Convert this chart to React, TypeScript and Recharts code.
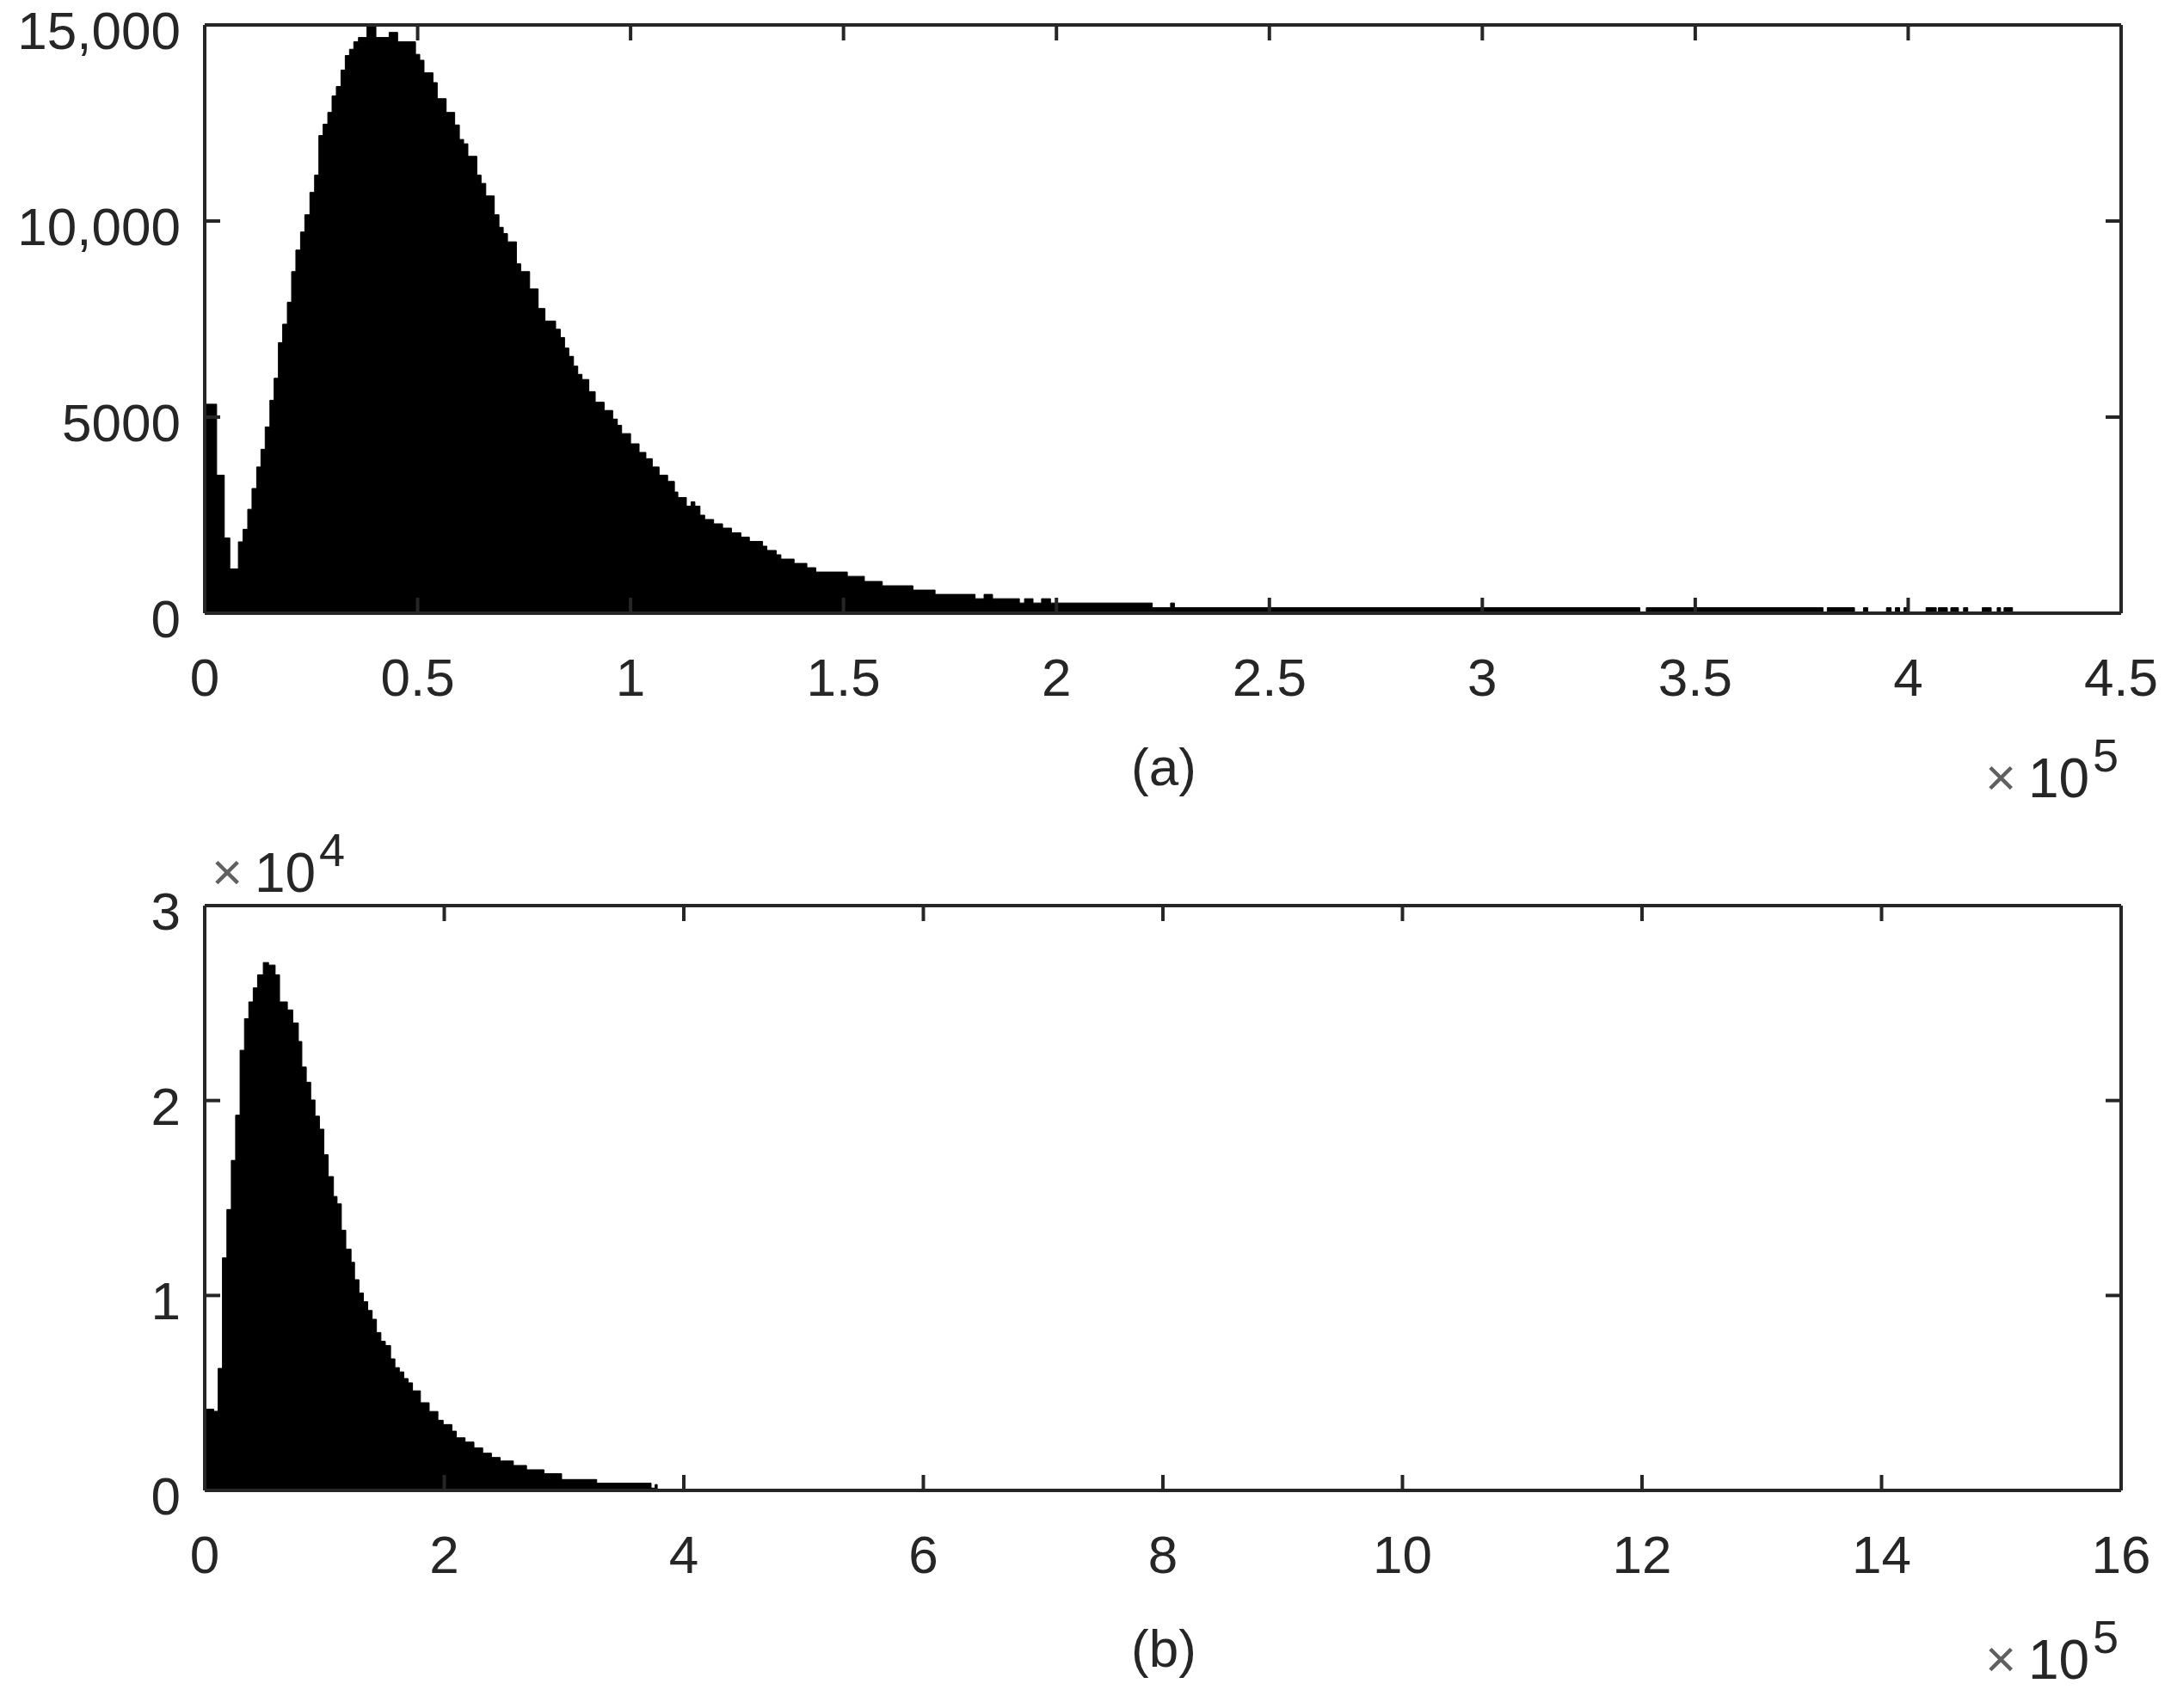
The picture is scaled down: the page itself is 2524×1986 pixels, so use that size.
import { AreaChart, Area, XAxis, YAxis } from "recharts";

// bin left edges in thousands, with the count of each bin
const topBinStart = [
  0, 2.8, 4.6, 5.9, 7.9, 9.0, 10.1, 11.1, 12.2, 13.2,
  14.2, 15.3, 16.3, 17.3, 18.3, 19.4, 20.4, 21.4, 22.5, 23.5,
  24.7, 25.8, 26.8, 27.8, 28.9, 29.9, 30.9, 32.0, 33.0, 34.0,
  35.0, 36.1, 38.1, 40.2, 43.3, 45.3, 49.5, 50.5, 51.5, 53.6,
  54.6, 56.7, 58.7, 59.8, 60.8, 61.8, 63.9, 64.9, 66.0, 68.0,
  69.1, 70.1, 71.1, 73.2, 74.2, 76.3, 78.3, 79.9, 82.4, 83.5,
  84.5, 85.5, 86.6, 87.6, 88.6, 90.2, 91.7, 93.8, 95.8, 96.9,
  97.9, 100.0, 102.0, 103.6, 105.1, 106.7, 108.7, 110.3, 111.1, 113.1,
  114.2, 115.1, 116.3, 117.4, 119.5, 121.6, 123.7, 125.9, 127.9, 131.0,
  132.0, 134.2, 135.3, 138.4, 141.4, 143.5, 150.9, 154.9, 159.1, 166.3,
  171.5, 180.9, 183.0, 185.0, 191.3, 192.5, 194.5, 196.5, 198.6, 222.5,
  226.8, 227.7, 337.0, 338.5, 380.0, 381.0, 387.4, 389.5, 390.5, 394.9,
  396.0, 397.0, 398.0, 399.0, 400.0, 404.2, 406.6, 407.1, 409.2, 410.0,
  411.8, 413.0, 414.0, 417.4, 419.5, 420.9, 421.7, 422.5, 424.5,
];
const topCounts = [
  5330, 3520, 1920, 1130, 1820, 2140, 2650, 3180, 3730, 4180,
  4750, 5430, 5990, 6900, 7370, 7930, 8710, 9260, 9720, 10160,
  10730, 11170, 12180, 12470, 12770, 13190, 13430, 13850, 14220, 14380,
  14570, 14680, 15000, 14680, 14810, 14570, 14250, 14100, 13780, 13530,
  13120, 12770, 12450, 12080, 11970, 11650, 11170, 10960, 10640, 10160,
  9840, 9680, 9470, 8910, 8710, 8270, 7770, 7450, 7240, 7030,
  6760, 6550, 6300, 6090, 5960, 5650, 5380, 5170, 4950, 4790,
  4580, 4320, 4100, 3940, 3730, 3520, 3360, 3090, 2950, 2730,
  2840, 2730, 2500, 2390, 2280, 2170, 2050, 1940, 1830, 1710,
  1600, 1490, 1380, 1270, 1160, 1050, 940, 810, 700, 590,
  480, 370, 480, 370, 260, 370, 260, 370, 260, 140,
  260, 140, 0, 140, 0, 140, 0, 140, 0, 140,
  0, 140, 0, 140, 0, 140, 0, 140, 0, 140,
  0, 140, 0, 140, 0, 140, 0, 140, 0,
];

const bottomBinStart = [
  0, 7.5, 11.2, 14.8, 18.5, 22.2, 25.8, 29.5, 33.2, 36.8,
  40.5, 44.1, 48.9, 53.3, 58.8, 62.5, 69.0, 73.5, 78.2, 81.1,
  84.8, 88.5, 92.1, 95.8, 99.5, 103.1, 107.5, 110.5, 114.1, 117.8,
  122.2, 125.1, 128.8, 132.5, 136.1, 139.8, 143.4, 147.1, 150.8, 155.2,
  158.8, 162.5, 166.2, 169.8, 173.5, 180.1, 187.4, 194.7, 199.1, 206.4,
  210.1, 217.4, 224.8, 232.1, 239.4, 246.7, 257.7, 268.7, 283.3, 298.0,
  327.3, 372.7, 376.0, 377.8,
];
const bottomCounts = [
  4170, 4060, 6260, 11930, 14410, 16930, 19250, 22580, 24200, 25060,
  25780, 26450, 27080, 26950, 26450, 25060, 24650, 23980, 23030, 21720,
  20940, 20030, 19200, 18530, 17220, 16100, 15080, 14700, 13350, 12380,
  11700, 10810, 10130, 9680, 9230, 8780, 8100, 7650, 7430, 6750,
  6300, 6080, 5740, 5520, 5110, 4500, 4050, 3600, 3380, 3040,
  2700, 2480, 2180, 1910, 1690, 1510, 1280, 1060, 860, 560,
  370, 120, 300, 0,
];

const topXTicks = [0, 50000, 100000, 150000, 200000, 250000, 300000, 350000, 400000, 450000];
const topYTicks = [0, 5000, 10000, 15000];
const bottomXTicks = [0, 200000, 400000, 600000, 800000, 1000000, 1200000, 1400000, 1600000];
const bottomYTicks = [0, 10000, 20000, 30000];

const topData = topBinStart.map((x, i) => ({ x: x * 1000, count: topCounts[i] }));
const bottomData = bottomBinStart.map((x, i) => ({ x: x * 1000, count: bottomCounts[i] }));

const FONT = "'Liberation Sans', Arial, Helvetica, sans-serif";
const INK = "#262626";
const tickStyle = { fontSize: 62, fill: INK, fontFamily: FONT };
const lineStyle = { stroke: INK, strokeWidth: 4 };

const matlabCount = (v: number) => (v >= 10000 ? v.toLocaleString("en-US") : String(v));

function Panel({
  data, width, height, top, xMax, xTicks, yMax, yTicks, xFmt, yFmt,
}: {
  data: { x: number; count: number }[];
  width: number; height: number; top: number;
  xMax: number; xTicks: number[]; yMax: number; yTicks: number[];
  xFmt: (v: number) => string; yFmt: (v: number) => string;
}) {
  return (
    <AreaChart width={width} height={height} data={data} margin={{ top, right: 56, bottom: 0, left: 0 }}>
      <XAxis
        xAxisId="b" dataKey="x" type="number" domain={[0, xMax]} ticks={xTicks}
        allowDataOverflow interval={0} height={130} tickSize={-18} tickMargin={70}
        tickFormatter={xFmt} tick={tickStyle} axisLine={lineStyle} tickLine={lineStyle}
      />
      <XAxis
        xAxisId="t" dataKey="x" orientation="top" type="number" domain={[0, xMax]} ticks={xTicks}
        allowDataOverflow interval={0} height={2} tickSize={-18}
        tickFormatter={() => ""} axisLine={lineStyle} tickLine={lineStyle}
      />
      <YAxis
        yAxisId="l" type="number" domain={[0, yMax]} ticks={yTicks} allowDataOverflow
        interval={0} width={238} tickSize={-18} tickMargin={46}
        tickFormatter={yFmt} tick={{ ...tickStyle, dy: 6 }} axisLine={lineStyle} tickLine={lineStyle}
      />
      <YAxis
        yAxisId="r" orientation="right" type="number" domain={[0, yMax]} ticks={yTicks}
        allowDataOverflow interval={0} width={2} tickSize={-18}
        tickFormatter={() => ""} axisLine={lineStyle} tickLine={lineStyle}
      />
      <Area
        xAxisId="b" yAxisId="l" type="stepAfter" dataKey="count"
        stroke="#000" strokeWidth={1} fill="#000" fillOpacity={1}
        isAnimationActive={false} dot={false} activeDot={false}
      />
      {/* invisible twin so the top and right frame axes are in use */}
      <Area
        xAxisId="t" yAxisId="r" type="stepAfter" dataKey="count"
        stroke="none" fill="none" isAnimationActive={false} dot={false} activeDot={false}
      />
    </AreaChart>
  );
}

function Exponent({ x, y, power }: { x: number; y: number; power: string }) {
  // "×10^n" multiplier note, y is the baseline of the "10"
  return (
    <g fontFamily={FONT}>
      <text x={x + 16} y={y - 2} fontSize={62} fill="#606060" textAnchor="middle">×</text>
      <text x={x + 48} y={y} fontSize={64} fill={INK}>10</text>
      <text x={x + 123} y={y - 30} fontSize={54} fill={INK}>{power}</text>
    </g>
  );
}

export default function App() {
  return (
    <div style={{ position: "absolute", left: 0, top: 0, width: 2524, height: 1986, background: "#fff" }}>
      <div style={{ position: "absolute", left: 0, top: 0 }}>
        <Panel
          data={topData} width={2524} height={843} top={27}
          xMax={450000} xTicks={topXTicks} yMax={15000} yTicks={topYTicks}
          xFmt={(v) => String(v / 1e5)} yFmt={matlabCount}
        />
      </div>
      <div style={{ position: "absolute", left: 0, top: 960 }}>
        <Panel
          data={bottomData} width={2524} height={903} top={91}
          xMax={1600000} xTicks={bottomXTicks} yMax={30000} yTicks={bottomYTicks}
          xFmt={(v) => String(v / 1e5)} yFmt={(v) => String(v / 1e4)}
        />
      </div>
      <svg width={2524} height={1986} style={{ position: "absolute", left: 0, top: 0, pointerEvents: "none" }}>
        <text x={1353} y={913} fontSize={62} fontFamily={FONT} fill={INK} textAnchor="middle">(a)</text>
        <text x={1353} y={1938} fontSize={62} fontFamily={FONT} fill={INK} textAnchor="middle">(b)</text>
        <Exponent x={2310} y={927} power="5" />
        <Exponent x={2310} y={1952} power="5" />
        <Exponent x={248} y={1037} power="4" />
      </svg>
    </div>
  );
}
